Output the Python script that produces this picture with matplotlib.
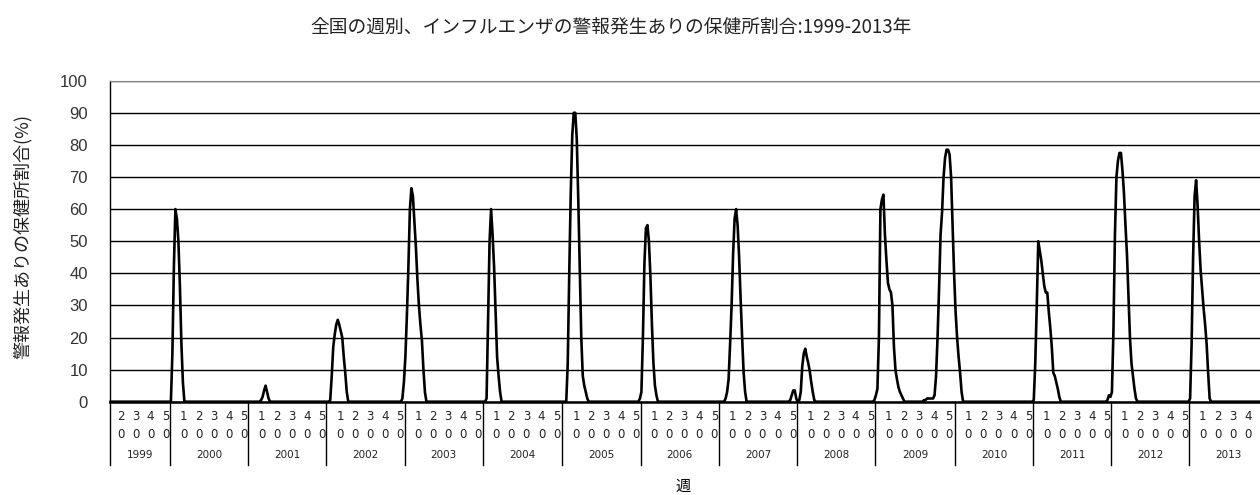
import numpy as np
import matplotlib
matplotlib.use("Agg")
import matplotlib.pyplot as plt
import matplotlib.transforms as mtransforms

# 日本語フォント
plt.rcParams['font.family'] = ['Noto Sans CJK JP', 'DejaVu Sans']

TITLE = "全国の週別、インフルエンザの警報発生ありの保健所割合:1999-2013年"
Y_LABEL = "警報発生ありの保健所割合(%)"
X_LABEL = "週"

# 年ごとの週数（1999は13週から、2013は47週まで表示）
years = list(range(1999, 2014))
first_week = [13, 1, 1, 1, 1, 1, 1, 1, 1, 1, 1, 1, 1, 1, 1]
last_week = [52, 52, 52, 52, 52, 53, 52, 52, 52, 52, 53, 52, 52, 52, 47]
week_ticks = [10, 20, 30, 40, 50]

# 流行期の値 (開始年, 開始週, 週ごとの%)、それ以外の週は 0
season_2000 = (2000, 2, [15, 42, 60, 57, 50, 36, 18, 6])
season_2001 = (2001, 9, [0.5, 1.5, 3.5, 5, 3, 1])
season_2002 = (2002, 3, [0.5, 8, 17, 21, 24, 25.5, 24, 22, 20, 14, 9, 3])
season_2003 = (2002, 51, [1, 6, 14, 27, 42, 60, 66.5, 64, 56, 48, 38, 30, 24, 19, 10, 3])
season_2004 = (2004, 3, [1, 25, 50, 60, 52, 42, 28, 14, 8, 3])
season_2005 = (2005, 4, [12, 40, 65, 83, 90, 90, 82, 63, 41, 20, 8, 5, 3, 1])
season_2006 = (2005, 52, [1, 3, 20, 43, 54, 55, 50, 39, 24, 12, 5, 2])
season_2007 = (2007, 5, [1, 3, 7, 18, 30, 46, 57, 60, 55, 45, 32, 20, 9, 3])
season_2008 = (2007, 48, [0.5, 2, 3.5, 3.5, 1, 0, 0.5, 3, 11, 15, 16.5, 14, 12, 9.5, 6, 3, 0.5])
season_2009 = (2008, 52, [0.5, 2, 4, 20, 60, 63, 64.5, 52, 44, 37, 35, 34, 30, 17, 10, 7, 4.5, 3, 2, 1])
season_2009p = (2009, 33, [0.5, 0.5, 1, 1, 1, 1, 1, 2, 8, 20, 35, 52, 59, 70, 76, 78.5, 78.5,
                           77, 70, 55, 40, 28, 20, 14, 9, 3])
season_2011 = (2011, 1, [0.5, 12, 30, 50, 47, 44, 40, 36, 34, 34, 28, 23, 17, 9, 8, 6, 4, 1.5])
season_2012 = (2011, 50, [0.5, 2, 1.5, 3, 22, 52, 70, 75, 77.5, 77.5, 72, 65, 55, 46, 33, 20, 12, 8, 4, 1])
season_2013 = (2013, 1, [1, 18, 45, 64, 69, 61, 50, 41, 35, 29, 24, 18, 9, 1])

seasons = [season_2000, season_2001, season_2002, season_2003, season_2004, season_2005,
           season_2006, season_2007, season_2008, season_2009, season_2009p, season_2011,
           season_2012, season_2013]

# 週の通し番号
year_start = {}
n = 0
for y, fw, lw_ in zip(years, first_week, last_week):
    year_start[y] = n
    n += lw_ - fw + 1
N = n


def index(year, week):
    return year_start[year] + week - first_week[years.index(year)]


values = np.zeros(N)
for y, w, vals in seasons:
    i0 = index(y, w)
    values[i0:i0 + len(vals)] = vals

x = np.arange(N) + 0.5

fig = plt.figure(figsize=(12.6, 4.95), dpi=100)
ax = fig.add_axes([110 / 1260, 1 - 401.7 / 495, 1150 / 1260, 321 / 495])

ax.plot(x, values, color='black', lw=1.9, solid_joinstyle='round', clip_on=False, zorder=3)

ax.set_xlim(0, N)
ax.set_ylim(0, 100)
ax.set_yticks(range(0, 101, 10))
ax.grid(axis='y', color='black', lw=1)
ax.set_xticks([])
ax.tick_params(axis='y', length=0, pad=16, labelsize=12, labelcolor='#333')
for lab in ax.get_yticklabels():
    lab.set_family('Liberation Sans')

ax.spines['right'].set_visible(False)
ax.spines['top'].set_color('#888')
ax.spines['top'].set_linestyle((0, (1, 1)))
ax.spines['left'].set_linewidth(1)
ax.spines['bottom'].set_linewidth(1.8)

# 多段の横軸ラベル
trans = mtransforms.blended_transform_factory(ax.transData, ax.transAxes)
for y, fw, lw_ in zip(years, first_week, last_week):
    for w in week_ticks:
        if fw <= w <= lw_:
            xi = index(y, w)
            ax.text(xi, -0.047, str(w // 10), transform=trans, ha='center', va='center',
                    fontsize=8.5, family='DejaVu Sans', color='#222')
            ax.text(xi, -0.101, "0", transform=trans, ha='center', va='center',
                    fontsize=8.5, family='DejaVu Sans', color='#222')
    if y == 2013:
        xc = year_start[y] + 26
    else:
        xc = year_start[y] + (lw_ - fw + 1) / 2
    ax.text(xc, -0.166, str(y), transform=trans, ha='center', va='center',
            fontsize=7.5, family='DejaVu Sans', color='#222')
    ax.plot([year_start[y], year_start[y]], [0, -0.197], transform=trans,
            color='black', lw=1, clip_on=False)

fig.text(0.485, 0.945, TITLE, ha='center', va='center', fontsize=13.5, color='#222')
fig.text(0.018, 0.522, Y_LABEL, ha='center', va='center', rotation=90, fontsize=13, color='#222')
fig.text(0.542, 0.018, X_LABEL, ha='center', va='center', fontsize=11)

fig.savefig("out.png", dpi=100)
